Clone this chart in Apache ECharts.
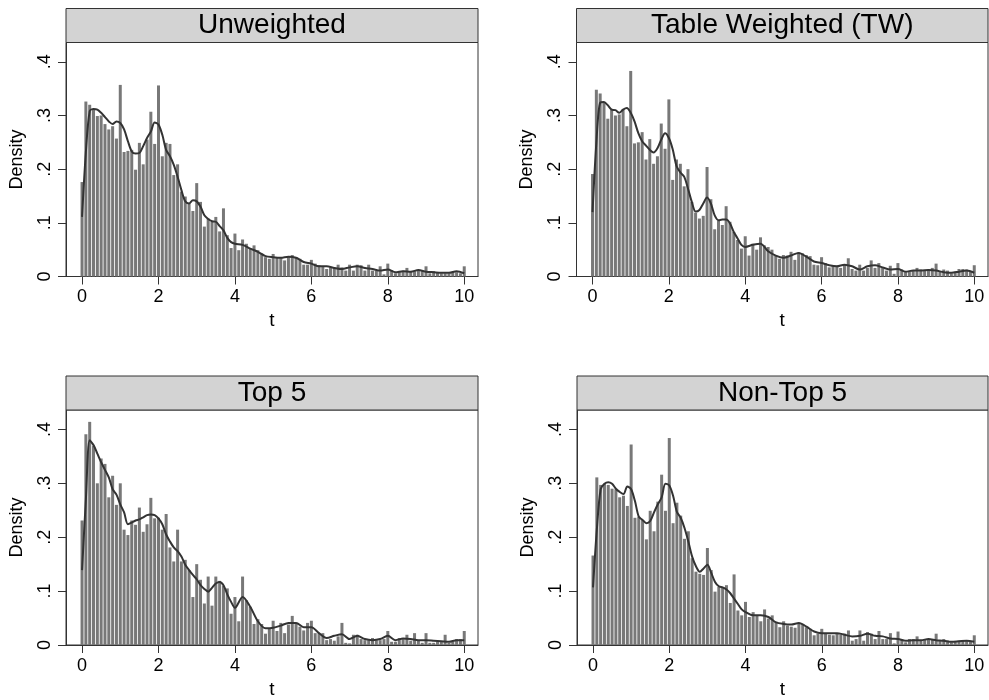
<!DOCTYPE html>
<html>
<head>
<meta charset="utf-8">
<script src="https://cdn.jsdelivr.net/npm/echarts@6/dist/echarts.min.js"></script>
<style>html,body{margin:0;padding:0;background:#fff}#c{width:989px;height:700px}</style>
</head>
<body>
<div id="c"></div>
<script>
// ---- data ----
const panelTitles = ["Unweighted", "Table Weighted (TW)", "Top 5", "Non-Top 5"];
const xTickLabels = [0, 2, 4, 6, 8, 10];
const yTickLabels = [0, 0.1, 0.2, 0.3, 0.4];
// bin centres 0, 0.1, ..., 10.0
const binT = Array.from({length: 101}, (_, i) => +(i / 10).toFixed(1));

const barsUnweighted = [
 0.176,0.326,0.320,0.311,0.299,0.300,0.284,0.274,0.280,0.257,
 0.357,0.232,0.234,0.236,0.199,0.249,0.209,0.255,0.307,0.247,
 0.356,0.224,0.249,0.247,0.189,0.209,0.158,0.149,0.136,0.122,
 0.174,0.139,0.093,0.108,0.102,0.111,0.084,0.127,0.077,0.053,
 0.080,0.049,0.069,0.061,0.052,0.058,0.049,0.043,0.036,0.033,
 0.042,0.036,0.035,0.030,0.037,0.040,0.036,0.033,0.022,0.022,
 0.031,0.024,0.021,0.019,0.014,0.017,0.017,0.022,0.017,0.011,
 0.022,0.011,0.022,0.021,0.011,0.022,0.011,0.011,0.019,0.004,
 0.024,0.012,0.006,0.010,0.011,0.016,0.010,0.010,0.011,0.010,
 0.019,0.006,0.010,0.008,0.006,0.006,0.006,0.008,0.008,0.006,
 0.019];
const barsTW = [
 0.191,0.348,0.341,0.324,0.294,0.311,0.300,0.302,0.311,0.280,
 0.383,0.248,0.250,0.269,0.218,0.256,0.210,0.224,0.285,0.238,
 0.330,0.180,0.218,0.210,0.168,0.200,0.139,0.119,0.108,0.113,
 0.204,0.144,0.088,0.104,0.096,0.131,0.102,0.083,0.068,0.052,
 0.075,0.039,0.061,0.050,0.073,0.058,0.055,0.050,0.039,0.033,
 0.040,0.039,0.046,0.031,0.045,0.043,0.040,0.038,0.022,0.021,
 0.036,0.025,0.017,0.021,0.020,0.016,0.022,0.034,0.014,0.011,
 0.022,0.011,0.016,0.030,0.016,0.025,0.016,0.011,0.020,0.005,
 0.025,0.013,0.008,0.009,0.011,0.016,0.013,0.011,0.013,0.016,
 0.024,0.009,0.013,0.011,0.006,0.009,0.014,0.014,0.013,0.009,
 0.021];
const barsTop5 = [
 0.231,0.391,0.414,0.370,0.300,0.346,0.336,0.274,0.314,0.260,
 0.300,0.214,0.204,0.231,0.223,0.255,0.210,0.224,0.273,0.235,
 0.236,0.214,0.243,0.181,0.155,0.214,0.155,0.158,0.139,0.089,
 0.150,0.121,0.077,0.127,0.073,0.127,0.119,0.110,0.105,0.058,
 0.089,0.044,0.127,0.083,0.071,0.039,0.048,0.039,0.021,0.030,
 0.045,0.026,0.041,0.022,0.038,0.054,0.041,0.034,0.027,0.041,
 0.045,0.022,0.022,0.022,0.009,0.011,0.008,0.016,0.041,0.004,
 0.003,0.019,0.019,0.011,0.009,0.009,0.013,0.009,0.009,0.011,
 0.026,0.006,0.006,0.013,0.011,0.019,0.008,0.022,0.009,0.004,
 0.022,0.004,0.004,0.006,0.006,0.019,0.004,0.006,0.011,0.011,
 0.026];
const barsNonTop5 = [
 0.166,0.311,0.297,0.299,0.297,0.290,0.289,0.274,0.277,0.258,
 0.372,0.236,0.238,0.232,0.196,0.249,0.211,0.266,0.316,0.249,
 0.384,0.226,0.264,0.240,0.197,0.211,0.161,0.136,0.132,0.130,
 0.180,0.139,0.099,0.108,0.107,0.111,0.078,0.131,0.064,0.055,
 0.080,0.052,0.061,0.055,0.044,0.066,0.049,0.055,0.043,0.033,
 0.044,0.036,0.034,0.032,0.041,0.039,0.033,0.030,0.018,0.021,
 0.030,0.021,0.019,0.018,0.021,0.019,0.021,0.027,0.008,0.011,
 0.027,0.008,0.024,0.021,0.011,0.026,0.011,0.011,0.022,0.003,
 0.025,0.011,0.005,0.011,0.011,0.016,0.008,0.011,0.011,0.011,
 0.021,0.008,0.011,0.008,0.005,0.006,0.008,0.009,0.008,0.007,
 0.018];

// kernel density curve, evaluation points
const kdeT = [
 0,0.1,0.2,0.3,0.4,0.5,0.6,0.7,0.8,0.9,1.0,1.1,1.2,1.3,1.4,1.5,1.6,1.7,1.8,1.9,
 2.0,2.1,2.2,2.3,2.4,2.5,2.6,2.7,2.8,2.9,3.0,3.1,3.2,3.3,3.4,3.5,3.6,3.7,3.8,3.9,
 4.0,4.2,4.4,4.6,4.8,5.0,5.2,5.4,5.6,5.8,6.0,6.2,6.4,6.6,6.8,7.0,7.2,7.4,7.6,7.8,
 8.0,8.2,8.4,8.6,8.8,9.0,9.2,9.4,9.6,9.8,10.0];
const kdeUnweighted = [
 0.111,0.232,0.308,0.312,0.311,0.305,0.297,0.289,0.284,0.289,0.286,0.274,0.252,0.233,0.229,0.230,0.243,0.258,0.270,0.287,
 0.283,0.264,0.236,0.224,0.208,0.186,0.161,0.140,0.136,0.142,0.140,0.130,0.114,0.107,0.103,0.102,0.094,0.086,0.072,0.064,
 0.061,0.059,0.052,0.046,0.038,0.036,0.035,0.037,0.035,0.027,0.024,0.019,0.019,0.016,0.014,0.017,0.019,0.016,0.014,0.011,
 0.013,0.008,0.010,0.009,0.012,0.009,0.008,0.007,0.007,0.010,0.006];
const kdeTW = [
 0.120,0.249,0.324,0.325,0.319,0.311,0.310,0.305,0.311,0.314,0.305,0.289,0.267,0.252,0.244,0.236,0.231,0.239,0.255,0.267,
 0.258,0.237,0.206,0.194,0.186,0.164,0.139,0.121,0.124,0.136,0.147,0.136,0.114,0.105,0.106,0.106,0.099,0.083,0.071,0.059,
 0.055,0.059,0.061,0.047,0.039,0.035,0.039,0.044,0.037,0.028,0.025,0.021,0.019,0.022,0.019,0.013,0.019,0.021,0.017,0.013,
 0.014,0.009,0.011,0.011,0.012,0.011,0.008,0.007,0.009,0.011,0.007];
const kdeTop5 = [
 0.139,0.270,0.380,0.371,0.355,0.339,0.325,0.311,0.289,0.279,0.261,0.246,0.224,0.227,0.231,0.233,0.237,0.241,0.242,0.241,
 0.235,0.224,0.205,0.192,0.181,0.174,0.164,0.149,0.139,0.130,0.122,0.111,0.104,0.099,0.106,0.114,0.117,0.111,0.094,0.080,
 0.069,0.089,0.071,0.044,0.031,0.032,0.036,0.041,0.041,0.033,0.033,0.022,0.013,0.017,0.020,0.011,0.017,0.011,0.009,0.011,
 0.017,0.009,0.012,0.011,0.009,0.009,0.008,0.007,0.006,0.009,0.009];
const kdeNonTop5 = [
 0.107,0.214,0.289,0.299,0.302,0.299,0.290,0.284,0.280,0.294,0.289,0.267,0.238,0.232,0.226,0.230,0.246,0.261,0.274,0.299,
 0.296,0.277,0.247,0.236,0.217,0.192,0.164,0.146,0.136,0.142,0.149,0.134,0.117,0.109,0.107,0.103,0.096,0.086,0.076,0.066,
 0.061,0.055,0.055,0.052,0.042,0.039,0.038,0.041,0.034,0.025,0.022,0.022,0.022,0.019,0.016,0.017,0.021,0.017,0.016,0.012,
 0.011,0.008,0.009,0.009,0.011,0.009,0.008,0.006,0.007,0.008,0.006];

const barsAll = [barsUnweighted, barsTW, barsTop5, barsNonTop5];
const kdeAll = [kdeUnweighted, kdeTW, kdeTop5, kdeNonTop5];

// ---- layout ----
const FONT = "Liberation Sans, Arial, sans-serif";
const panels = [
  {left: 66,  top: 42.5, width: 412, height: 234, headTop: 8.5},
  {left: 576.5, top: 42.5, width: 411.5, height: 234, headTop: 8.5},
  {left: 66,  top: 410, width: 412, height: 235, headTop: 376},
  {left: 577, top: 410, width: 411, height: 235, headTop: 376}
];

const grids = [], xAxes = [], yAxes = [], series = [], graphics = [];
panels.forEach((p, i) => {
  grids.push({left: p.left, top: p.top, width: p.width, height: p.height,
    show: true, borderColor: '#333', borderWidth: 1, backgroundColor: '#fff', containLabel: false});
  xAxes.push({type: 'value', gridIndex: i, min: -0.42, max: 10.36,
    name: 't', nameLocation: 'middle', nameGap: 35,
    nameTextStyle: {fontFamily: FONT, fontSize: 19, color: '#000'},
    axisLine: {show: true, onZero: false, lineStyle: {color: '#333', width: 1}},
    axisTick: {show: true, length: 8, lineStyle: {color: '#333'}, customValues: xTickLabels},
    axisLabel: {fontFamily: FONT, fontSize: 18, color: '#000', margin: 12, customValues: xTickLabels},
    splitLine: {show: false}});
  yAxes.push({type: 'value', gridIndex: i, min: 0, max: 0.436,
    name: 'Density', nameLocation: 'middle', nameGap: 40,
    nameTextStyle: {fontFamily: FONT, fontSize: 18, color: '#000'},
    axisLine: {show: true, onZero: false, lineStyle: {color: '#333', width: 1}},
    axisTick: {show: true, length: 8, lineStyle: {color: '#333'}, customValues: yTickLabels},
    axisLabel: {fontFamily: FONT, fontSize: 18, color: '#000', margin: 12, rotate: 90,
      customValues: yTickLabels,
      formatter: v => v === 0 ? '0' : String(+v.toFixed(1)).replace(/^0\./, '.')},
    splitLine: {show: false}});
  series.push({type: 'bar', xAxisIndex: i, yAxisIndex: i, barWidth: 3,
    itemStyle: {color: '#787878'}, silent: true, animation: false,
    data: binT.map((t, k) => [t, barsAll[i][k]])});
  series.push({type: 'line', xAxisIndex: i, yAxisIndex: i, smooth: 0.3, symbol: 'none',
    lineStyle: {color: '#333', width: 2}, silent: true, animation: false,
    data: kdeT.map((t, k) => [t, kdeAll[i][k]])});
  graphics.push({type: 'rect', shape: {x: p.left, y: p.headTop, width: p.width, height: p.top - p.headTop},
    style: {fill: '#d3d3d3', stroke: '#333', lineWidth: 1}, z: 10});
  graphics.push({type: 'text', x: p.left + p.width / 2, y: (p.headTop + p.top) / 2,
    style: {text: panelTitles[i], font: '28px ' + FONT, fill: '#000', align: 'center', verticalAlign: 'middle'}, z: 11});
});

const chart = echarts.init(document.getElementById('c'), null, {renderer: 'canvas'});
chart.setOption({animation: false, grid: grids, xAxis: xAxes, yAxis: yAxes, series: series, graphic: graphics});
</script>
</body>
</html>
